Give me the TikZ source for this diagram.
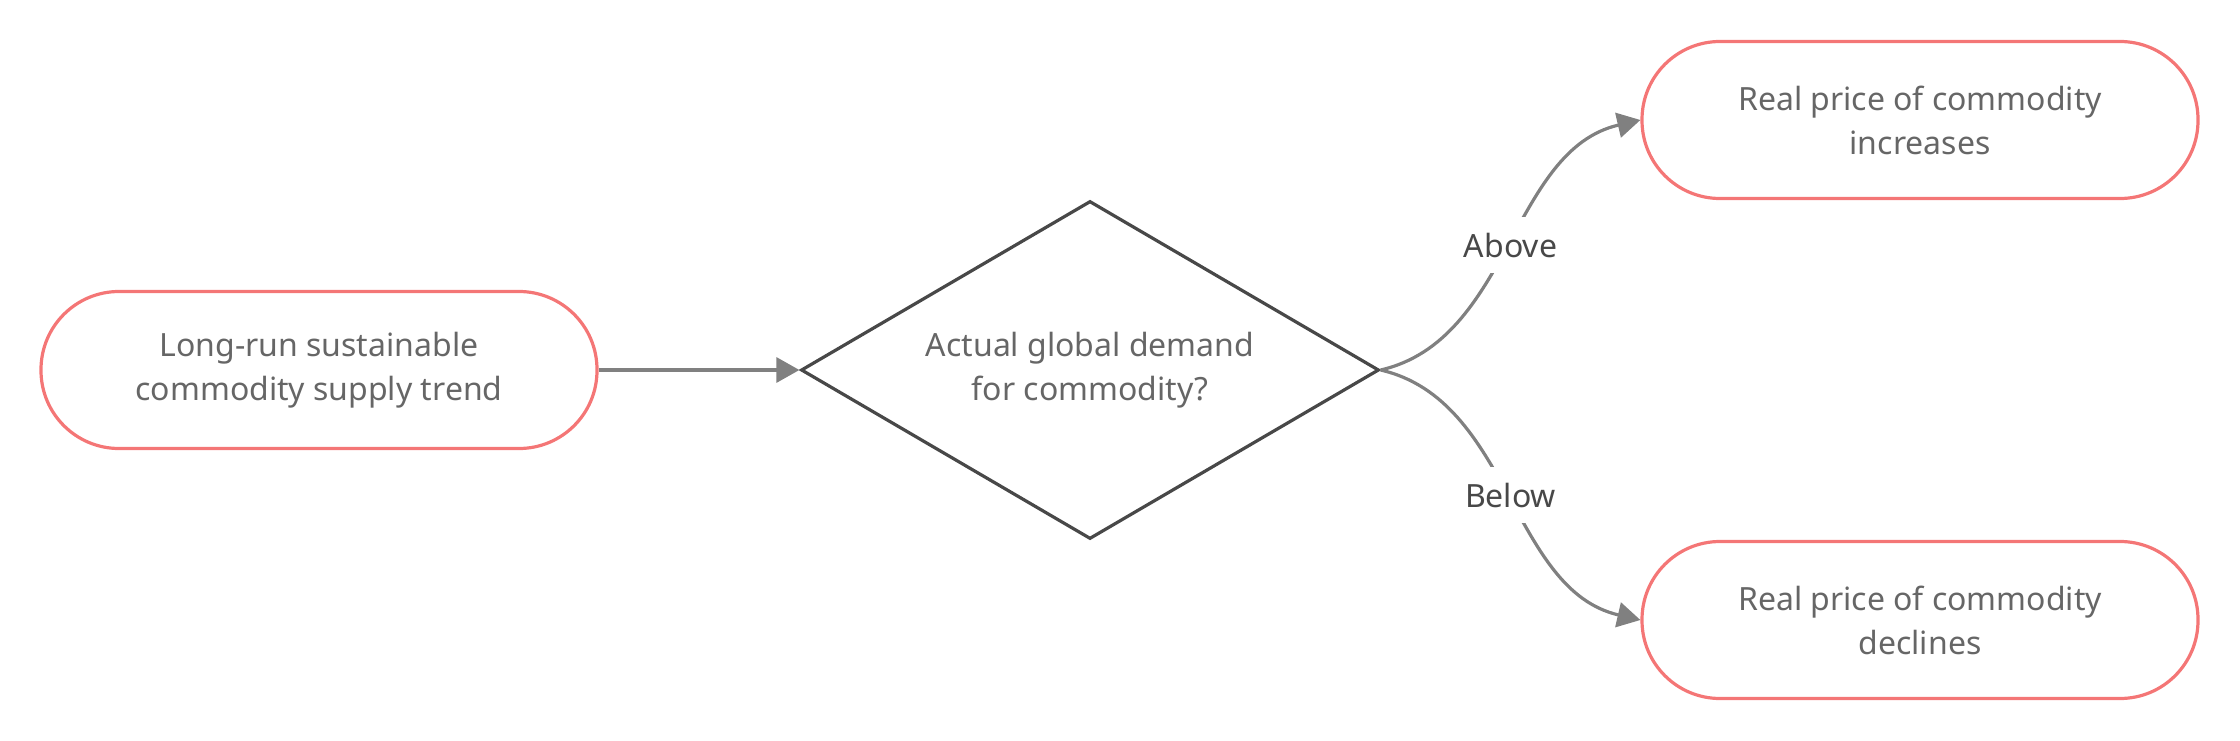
\documentclass[tikz,border=0pt]{standalone}
\usepackage{fontspec}
\setmainfont{Noto Sans}
\usetikzlibrary{arrows.meta,shapes.geometric}
\definecolor{boxred}{HTML}{F47676}
\definecolor{boxtext}{HTML}{666666}
\definecolor{linegray}{HTML}{808080}
\definecolor{dkgray}{HTML}{484848}
\begin{document}
\begin{tikzpicture}[x=1pt,y=-1pt,
  term/.style={draw=boxred, line width=3.2pt, rounded corners=78pt,
    minimum width=556pt, minimum height=157pt, align=center,
    text=boxtext, font=\fontsize{32}{44}\selectfont, inner sep=0pt},
  decision/.style={diamond, draw=dkgray, line width=3.2pt,
    minimum width=578pt, minimum height=338pt, inner sep=0pt},
  dtext/.style={align=center, text=boxtext, font=\fontsize{32}{44}\selectfont},
  conn/.style={draw=linegray, line width=3.2pt,
    -{Triangle[length=23pt,width=25pt]}},
  lbl/.style={fill=white, text=dkgray, font=\fontsize{32}{44}\selectfont,
    inner xsep=6pt, inner ysep=16pt}]
\useasboundingbox (0,0) rectangle (2240,741);
\node[term] (a) at (319,370) {Long-run sustainable\\commodity supply trend};
\node[decision] (d) at (1090,370) {};
\node[dtext] (dt) at (d.center) {Actual global demand\\for commodity?};
\node[term] (t) at (1920,120) {Real price of commodity\\increases};
\node[term] (b) at (1920,620) {Real price of commodity\\declines};
\draw[conn] (a.east) -- (d.west);
\draw[conn] (d.east) .. controls +(130,-30) and +(-130,30) .. (t.west)
  node[lbl, pos=0.5] {Above};
\draw[conn] (d.east) .. controls +(130,30) and +(-130,-30) .. (b.west)
  node[lbl, pos=0.5] {Below};
\end{tikzpicture}
\end{document}
